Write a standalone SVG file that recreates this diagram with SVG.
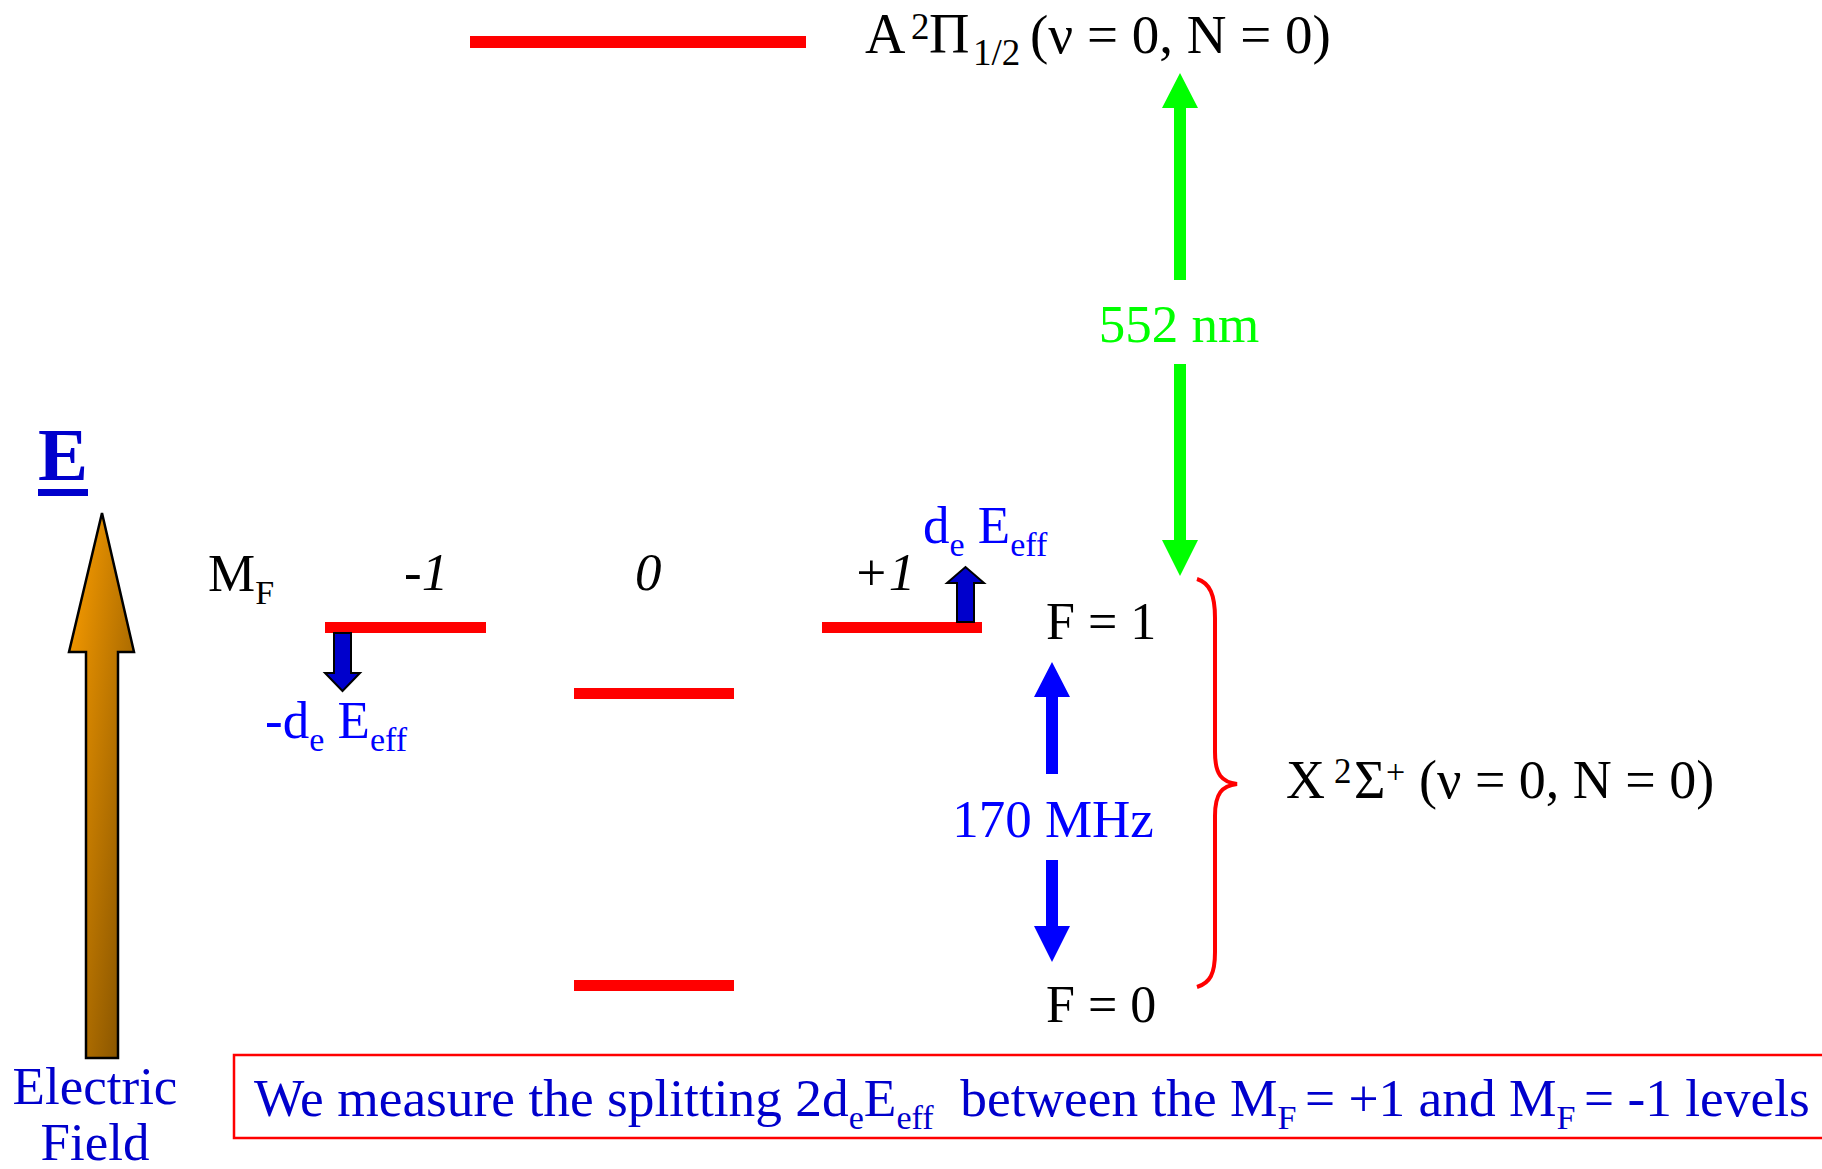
<svg xmlns="http://www.w3.org/2000/svg" width="1822" height="1169" viewBox="0 0 1822 1169">
<defs>
<style>
text{font-family:"Liberation Serif","Times New Roman",serif;white-space:pre}
.k{fill:#000}
.db{fill:#0000cc}
.b{fill:#0000ff}
.g{fill:#00ff00}
.lvl{fill:#ff0000}
.sub{font-size:34px}
.it{font-style:italic}
.ar{fill:#0000cc;stroke:#000;stroke-width:2;stroke-linejoin:miter}
</style>
<linearGradient id="og" x1="0" y1="0" x2="1" y2="1">
<stop offset="0" stop-color="#ffa000"/>
<stop offset="1" stop-color="#7a4c00"/>
</linearGradient>
</defs>
<rect width="1822" height="1169" fill="#fff"/>

<g id="level-A">
<rect class="lvl" x="470" y="36" width="336" height="12"/>
<text class="k" font-size="56" y="53"><tspan x="865">A</tspan><tspan x="911" y="39" font-size="37">2</tspan><tspan x="929" y="53">Π</tspan><tspan x="973" y="65" font-size="37">1/2</tspan><tspan x="1030" y="53" font-size="55">(ν = 0, N = 0)</tspan></text>
</g>

<g id="level-m1">
<rect class="lvl" x="325" y="622" width="161" height="11"/>
<text class="k it" font-size="53" x="404" y="590">-1</text>
</g>
<g id="level-0-upper">
<rect class="lvl" x="574" y="688" width="160" height="11"/>
<text class="k it" font-size="53" x="635" y="590">0</text>
</g>
<g id="level-p1">
<rect class="lvl" x="822" y="622" width="160" height="11"/>
<text class="k it" font-size="53" x="853" y="590">+1</text>
</g>
<g id="level-0-lower">
<rect class="lvl" x="574" y="980" width="160" height="11"/>
</g>

<g id="mf-label">
<text class="k" font-size="53" x="208" y="591">M<tspan class="sub" dy="13">F</tspan></text>
</g>

<g id="f1-label"><text class="k" font-size="52" x="1046" y="639">F = 1</text></g>
<g id="f0-label"><text class="k" font-size="52" x="1046" y="1022">F = 0</text></g>

<g id="level-X">
<text class="k" font-size="54" y="798"><tspan x="1286">X</tspan><tspan x="1334" y="783" font-size="35">2</tspan><tspan x="1354" y="798">Σ</tspan><tspan x="1386" y="783" font-size="34">+</tspan><tspan x="1419" y="798">(ν = 0, N = 0)</tspan></text>
</g>

<g id="efield">
<text class="db" font-size="75" font-weight="bold" x="38" y="480">E</text>
<rect class="db" x="38" y="489" width="50" height="7"/>
<polygon points="102,513 134,652 118,652 118,1058 86,1058 86,652 69,652" fill="url(#og)" stroke="#000" stroke-width="2.5" stroke-linejoin="miter"/>
<text class="db" font-size="53" x="95" y="1104" text-anchor="middle">Electric</text>
<text class="db" font-size="53" x="95" y="1160" text-anchor="middle">Field</text>
</g>

<g id="connectors">
<polygon id="shift-down" class="ar" points="334,633 351,633 351,673 360,673 342.5,691 325,673 334,673"/>
<polygon id="shift-up" class="ar" points="957,622 974,622 974,583 984,583 965.5,567 947,583 957,583"/>
<g id="green-arrow" fill="#00ff00">
<polygon points="1180,73 1198,108 1186,108 1186,280 1174,280 1174,108 1162,108"/>
<polygon points="1174,364 1186,364 1186,540 1198,540 1180,576 1162,540 1174,540"/>
</g>
<g id="blue-arrow" fill="#0000ff">
<polygon points="1052,662 1070,697 1058,697 1058,774 1046,774 1046,697 1034,697"/>
<polygon points="1046,860 1058,860 1058,926 1070,926 1052,962 1034,926 1046,926"/>
</g>
<path id="brace" d="M1197,579 C1210,583 1215,595 1215,618 L1215,752 C1215,775 1222,782 1237,784 C1222,786 1215,793 1215,816 L1215,952 C1215,974 1210,983 1197,987" fill="none" stroke="#ff0000" stroke-width="4"/>
</g>

<g id="labels">
<text class="g" font-size="53" x="1179" y="342" text-anchor="middle">552 nm</text>
<text class="b" font-size="53" x="1053" y="837" text-anchor="middle">170 MHz</text>
<text class="b" font-size="53" x="923" y="543">d<tspan class="sub" dy="13">e</tspan><tspan dy="-13"> E</tspan><tspan class="sub" dy="13">eff</tspan></text>
<text class="b" font-size="53" x="265" y="738">-d<tspan class="sub" dy="13">e</tspan><tspan dy="-13"> E</tspan><tspan class="sub" dy="13">eff</tspan></text>
</g>

<g id="note">
<rect x="234" y="1055" width="1600" height="83" fill="#fff" stroke="#ff0000" stroke-width="2.5"/>
<text class="db" font-size="53.4" x="254" y="1116">We measure the splitting 2d<tspan class="sub" dy="13">e</tspan><tspan dy="-13">E</tspan><tspan class="sub" dy="13">eff</tspan><tspan dy="-13">  between the M</tspan><tspan class="sub" dy="13">F </tspan><tspan dy="-13">= +1 and M</tspan><tspan class="sub" dy="13">F </tspan><tspan dy="-13">= -1 levels</tspan></text>
</g>
</svg>
